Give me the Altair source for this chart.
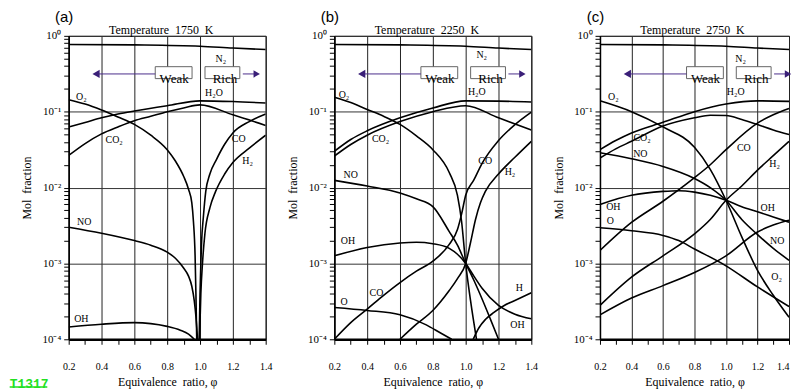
import altair as alt
import pandas as pd

# ---------------- axis ticks ----------------
X_TICKS = [0.2, 0.3, 0.4, 0.5, 0.6, 0.7, 0.8, 0.9, 1.0, 1.1, 1.2, 1.3, 1.4]
Y_DECADES = [0.0001, 0.001, 0.01, 0.1, 1.0]
Y_MINOR = [2, 3, 4, 5, 6, 7, 8, 9]

NB = "\u00a0"
PANEL_TAGS = ["(a)", "(b)", "(c)"]
PANEL_TITLES = [f"Temperature{NB}{NB}1750{NB}{NB}K", f"Temperature{NB}{NB}2250{NB}{NB}K",
                f"Temperature{NB}{NB}2750{NB}{NB}K"]

# ---------------- panel (a) 1750 K ----------------
A_N2_PHI = [0.2, 0.6, 1.0, 1.2, 1.4]
A_N2 = [0.77, 0.76, 0.73, 0.69, 0.66]
A_H2O_PHI = [0.2, 0.3, 0.4, 0.5, 0.6, 0.8, 1.0, 1.2, 1.4]
A_H2O = [0.063, 0.072, 0.083, 0.093, 0.102, 0.120, 0.139, 0.136, 0.130]
A_CO2_PHI = [0.2, 0.3, 0.4, 0.5, 0.6, 0.7, 0.8, 0.9, 1.0, 1.2, 1.4]
A_CO2 = [0.0265, 0.038, 0.051, 0.063, 0.076, 0.087, 0.100, 0.112, 0.123, 0.091, 0.066]
A_O2_PHI = [0.2, 0.3, 0.4, 0.5, 0.6, 0.7, 0.8, 0.85, 0.9, 0.93, 0.95, 0.96, 0.97, 0.975, 0.98]
A_O2 = [0.144, 0.126, 0.105, 0.085, 0.068, 0.049, 0.0316, 0.0224, 0.0141, 0.0095, 0.0063,
        0.00355, 0.00126, 0.0004, 0.0001]
A_NO_PHI = [0.2, 0.4, 0.6, 0.7, 0.8, 0.85, 0.9, 0.93, 0.95, 0.965, 0.975, 0.985]
A_NO = [0.0030, 0.0025, 0.0020, 0.00174, 0.00141, 0.00117, 0.00087, 0.00068, 0.0005,
        0.00032, 0.0002, 0.0001]
A_OH_PHI = [0.2, 0.4, 0.6, 0.8, 0.88, 0.93, 0.965]
A_OH = [0.000145, 0.000158, 0.000166, 0.000148, 0.000132, 0.000117, 0.0001]
A_CO_PHI = [0.995, 1.0, 1.005, 1.01, 1.02, 1.035, 1.06, 1.1, 1.15, 1.2, 1.3, 1.4]
A_CO = [0.0001, 0.0004, 0.001, 0.002, 0.004, 0.0089, 0.0151, 0.0234, 0.0372, 0.0525, 0.0741, 0.0933]
A_H2_PHI = [0.997, 1.005, 1.015, 1.03, 1.06, 1.095, 1.15, 1.2, 1.3, 1.4]
A_H2 = [0.0001, 0.0004, 0.001, 0.0025, 0.0054, 0.0089, 0.0151, 0.0214, 0.0331, 0.049]
A_LABELS = [("N₂", 1.127, 0.50), ("O₂", 0.277, 0.158), ("H₂O", 1.085, 0.179),
            ("CO₂", 0.477, 0.042), ("CO", 1.236, 0.0434), ("H₂", 1.29, 0.0224),
            ("NO", 0.295, 0.00347), ("OH", 0.277, 0.000184)]

# ---------------- panel (b) 2250 K ----------------
B_N2_PHI = [0.2, 0.6, 1.0, 1.2, 1.4]
B_N2 = [0.77, 0.76, 0.73, 0.69, 0.66]
B_H2O_PHI = [0.2, 0.3, 0.4, 0.6, 0.8, 1.0, 1.2, 1.4]
B_H2O = [0.030, 0.043, 0.056, 0.083, 0.112, 0.139, 0.138, 0.134]
B_CO2_PHI = [0.2, 0.3, 0.4, 0.6, 0.8, 1.0, 1.2, 1.4]
B_CO2 = [0.026, 0.037, 0.049, 0.074, 0.100, 0.120, 0.083, 0.0575]
B_O2_PHI = [0.2, 0.3, 0.4, 0.5, 0.6, 0.7, 0.8, 0.9, 0.95, 0.975, 1.0, 1.03, 1.066]
B_O2 = [0.155, 0.132, 0.107, 0.087, 0.068, 0.048, 0.0316, 0.0158, 0.0079, 0.0036, 0.001,
        0.00032, 0.0001]
B_NO_PHI = [0.2, 0.4, 0.6, 0.7, 0.8, 0.9, 0.95, 1.0, 1.05, 1.1, 1.15, 1.2]
B_NO = [0.01245, 0.0105, 0.0085, 0.0071, 0.0056, 0.00263, 0.00174, 0.001, 0.0006, 0.00034,
        0.000186, 0.0001]
B_OH_PHI = [0.2, 0.4, 0.6, 0.7, 0.8, 0.9, 0.95, 1.0, 1.05, 1.1, 1.2, 1.3, 1.4]
B_OH = [0.00126, 0.00162, 0.00186, 0.0019, 0.00182, 0.00158, 0.00132, 0.001, 0.00068,
        0.00047, 0.00028, 0.000214, 0.000186]
B_O_PHI = [0.2, 0.4, 0.6, 0.76, 0.85, 0.915]
B_O = [0.000263, 0.00024, 0.00021, 0.000155, 0.00012, 0.0001]
B_CO_PHI = [0.2, 0.3, 0.4, 0.5, 0.6, 0.7, 0.8, 0.9, 0.95, 0.975, 1.0, 1.05, 1.1, 1.2, 1.3, 1.4]
B_CO = [0.0001, 0.000166, 0.00025, 0.00038, 0.00056, 0.00079, 0.00107, 0.00178, 0.0028,
        0.00447, 0.0079, 0.0126, 0.0209, 0.0417, 0.0676, 0.099]
B_H2_PHI = [0.6, 0.7, 0.8, 0.9, 0.95, 1.0, 1.03, 1.06, 1.09, 1.12, 1.2, 1.3, 1.4]
B_H2 = [0.0001, 0.000158, 0.00024, 0.00044, 0.00063, 0.001, 0.0019, 0.0038, 0.0063,
        0.0089, 0.0151, 0.0251, 0.0407]
B_H_PHI = [1.046, 1.08, 1.12, 1.17, 1.23, 1.3, 1.4]
B_H = [0.0001, 0.000141, 0.000182, 0.000224, 0.000275, 0.000324, 0.00041]
B_LABELS = [("N₂", 1.098, 0.558), ("O₂", 0.259, 0.167), ("H₂O", 1.068, 0.181),
            ("CO₂", 0.482, 0.043), ("CO", 1.119, 0.0223), ("H₂", 1.27, 0.0158),
            ("NO", 0.30, 0.0146), ("OH", 0.283, 0.00195), ("CO", 0.457, 0.00041),
            ("O", 0.259, 0.00031), ("H", 1.327, 0.00047), ("OH", 1.315, 0.000155)]

# ---------------- panel (c) 2750 K ----------------
C_N2_PHI = [0.2, 0.6, 1.0, 1.2, 1.4]
C_N2 = [0.77, 0.76, 0.73, 0.69, 0.66]
C_H2O_PHI = [0.2, 0.3, 0.4, 0.6, 0.8, 1.0, 1.2, 1.4]
C_H2O = [0.0316, 0.0417, 0.0525, 0.0724, 0.100, 0.126, 0.139, 0.137]
C_CO2_PHI = [0.2, 0.3, 0.4, 0.6, 0.8, 0.9, 1.0, 1.1, 1.2, 1.3, 1.4]
C_CO2 = [0.0245, 0.0324, 0.0407, 0.0646, 0.083, 0.090, 0.089, 0.079, 0.0676, 0.0575, 0.050]
C_O2_PHI = [0.2, 0.4, 0.6, 0.8, 0.9, 1.0, 1.1, 1.2, 1.3, 1.4]
C_O2 = [0.139, 0.100, 0.063, 0.034, 0.0174, 0.0068, 0.00224, 0.00081, 0.00038, 0.000195]
C_NO_PHI = [0.2, 0.4, 0.6, 0.8, 0.9, 1.0, 1.1, 1.2, 1.3, 1.4]
C_NO = [0.0288, 0.024, 0.019, 0.0132, 0.0100, 0.0068, 0.0038, 0.0024, 0.00158, 0.0011]
C_CO_PHI = [0.2, 0.4, 0.6, 0.8, 0.9, 1.0, 1.2, 1.3, 1.4]
C_CO = [0.00148, 0.00347, 0.0066, 0.0135, 0.020, 0.0316, 0.0708, 0.091, 0.11]
C_H2_PHI = [0.2, 0.4, 0.6, 0.8, 0.9, 1.0, 1.1, 1.2, 1.3, 1.4]
C_H2 = [0.00028, 0.00066, 0.00126, 0.00245, 0.0038, 0.0068, 0.0105, 0.017, 0.0263, 0.0407]
C_H_PHI = [0.2, 0.4, 0.6, 0.8, 1.0, 1.2, 1.3, 1.4]
C_H = [0.00021, 0.00035, 0.00051, 0.00076, 0.00126, 0.0026, 0.0032, 0.0037]
C_OH_PHI = [0.2, 0.4, 0.6, 0.7, 0.8, 0.9, 1.0, 1.1, 1.2, 1.3, 1.4]
C_OH = [0.006, 0.0079, 0.0089, 0.0091, 0.0087, 0.0079, 0.0068, 0.0056, 0.0048, 0.0041, 0.0035]
C_O_PHI = [0.2, 0.4, 0.6, 0.7, 0.8, 1.0, 1.2, 1.4]
C_O = [0.00295, 0.0027, 0.00234, 0.002, 0.00155, 0.00093, 0.00049, 0.00027]
C_LABELS = [("N₂", 1.093, 0.49), ("O₂", 0.285, 0.158), ("H₂O", 1.062, 0.181),
            ("CO₂", 0.467, 0.045), ("NO", 0.456, 0.0275), ("CO", 1.113, 0.0333),
            ("H₂", 1.309, 0.0202), ("OH", 0.285, 0.0056), ("O", 0.265, 0.00357),
            ("OH", 1.265, 0.0054), ("NO", 1.325, 0.00195), ("O₂", 1.321, 0.00066)]

SERIES = [
    {"N2": (A_N2_PHI, A_N2), "H2O": (A_H2O_PHI, A_H2O), "CO2": (A_CO2_PHI, A_CO2),
     "O2": (A_O2_PHI, A_O2), "NO": (A_NO_PHI, A_NO), "OH": (A_OH_PHI, A_OH),
     "CO": (A_CO_PHI, A_CO), "H2": (A_H2_PHI, A_H2)},
    {"N2": (B_N2_PHI, B_N2), "H2O": (B_H2O_PHI, B_H2O), "CO2": (B_CO2_PHI, B_CO2),
     "O2": (B_O2_PHI, B_O2), "NO": (B_NO_PHI, B_NO), "OH": (B_OH_PHI, B_OH),
     "O": (B_O_PHI, B_O), "CO": (B_CO_PHI, B_CO), "H2": (B_H2_PHI, B_H2),
     "H": (B_H_PHI, B_H)},
    {"N2": (C_N2_PHI, C_N2), "H2O": (C_H2O_PHI, C_H2O), "CO2": (C_CO2_PHI, C_CO2),
     "O2": (C_O2_PHI, C_O2), "NO": (C_NO_PHI, C_NO), "CO": (C_CO_PHI, C_CO),
     "H2": (C_H2_PHI, C_H2), "H": (C_H_PHI, C_H), "OH": (C_OH_PHI, C_OH),
     "O": (C_O_PHI, C_O)},
]
LABELS = [A_LABELS, B_LABELS, C_LABELS]

# ---------------- styling ----------------
SERIF = "Liberation Serif"
SANS = "Liberation Sans"
MONO = "Liberation Mono"
PURPLE = "#4b2d8a"
PURPLE_DARK = "#3a1f78"
GREEN = "#22e022"
PWIDTHS = [198, 198, 190]
PH = 305

Y_TICKS = sorted(set(Y_DECADES + [d * m for d in Y_DECADES[:-1] for m in Y_MINOR]))

X_MAJOR = "abs(datum.value*5 - round(datum.value*5)) < 0.01"
LOG10 = "(log(datum.value)/LN10)"
Y_MAJOR = f"abs({LOG10} - round({LOG10})) < 0.01"
Y_LABEL = (f"abs({LOG10}) < 0.01 ? '10⁰' : abs({LOG10}+1) < 0.01 ? '10⁻¹' : "
           f"abs({LOG10}+2) < 0.01 ? '10⁻²' : abs({LOG10}+3) < 0.01 ? '10⁻³' : "
           f"abs({LOG10}+4) < 0.01 ? '10⁻⁴' : ''")

x_scale = alt.Scale(domain=[0.2, 1.4], nice=False, zero=False)
y_scale = alt.Scale(type="log", domain=[0.0001, 1], nice=False)


def x_axis(last_right):
    extra = {}
    if last_right:
        extra["labelAlign"] = {"condition": {"test": "datum.value > 1.35", "value": "right"},
                               "value": "center"}
    return alt.Axis(
        values=X_TICKS, tickCount=100, title=f"Equivalence{NB}{NB}ratio,{NB}φ",
        labelExpr=f"{X_MAJOR} ? format(datum.value, '.1f') : ''",
        grid=True, gridColor="#222222", gridWidth=1,
        gridOpacity={"condition": {"test": X_MAJOR, "value": 1}, "value": 0},
        tickSize=5, tickColor="black", domainColor="black", domainWidth=2.5,
        labelFont=SERIF, labelFontSize=10, labelColor="black", labelPadding=17,
        labelOverlap=False, labelFlush=False,
        titleFont=SERIF, titleFontSize=12, titleFontWeight="normal", titleColor="black",
        titlePadding=5, **extra,
    )


y_axis = alt.Axis(
    values=Y_TICKS, tickCount=100, title=f"Mol{NB}{NB}fraction", labelExpr=Y_LABEL,
    grid=True, gridColor="#333333", gridWidth=1,
    gridOpacity={"condition": {"test": Y_MAJOR, "value": 1}, "value": 0},
    tickSize=5, tickColor="black", domainColor="black", domainWidth=1.5,
    labelFont=SERIF, labelFontSize=11, labelColor="black", labelPadding=3,
    labelOverlap=False, labelFlush=False,
    titleFont=SERIF, titleFontSize=12, titleFontWeight="normal", titleColor="black",
    titleX=-35, titleY=PH / 2,
)

ONE = pd.DataFrame({"k": [0]})


def make_panel(i):
    rows = []
    for sp, (phis, vals) in SERIES[i].items():
        for p, v in zip(phis, vals):
            rows.append({"species": sp, "phi": p, "value": v})
    df = pd.DataFrame(rows)
    ldf = pd.DataFrame([{"label": t, "phi": p, "value": v} for t, p, v in LABELS[i]])

    lines = alt.Chart(df).mark_line(
        color="black", strokeWidth=1.6, interpolate="monotone", clip=True
    ).encode(
        x=alt.X("phi:Q", scale=x_scale, axis=x_axis(i == 2)),
        y=alt.Y("value:Q", scale=y_scale, axis=y_axis),
        detail="species:N",
        order="phi:Q",
    )
    labels = alt.Chart(ldf).mark_text(font=SERIF, fontSize=10, color="black").encode(
        x="phi:Q", y="value:Q", text="label:N"
    )
    base = alt.Chart(ONE)
    tag = base.mark_text(font=SANS, fontSize=15, color="black", align="center",
                         baseline="top").encode(
        x=alt.value(-4.5), y=alt.value(-26), text=alt.value(PANEL_TAGS[i]))
    title = base.mark_text(font=SERIF, fontSize=12, color="black", align="center").encode(
        x=alt.value(93), y=alt.value(-5.5), text=alt.value(PANEL_TITLES[i]))
    weak_box = base.mark_rect(fill="white", stroke="#666666", strokeWidth=1).encode(
        x=alt.value(87), x2=alt.value(124), y=alt.value(31), y2=alt.value(43))
    rich_box = base.mark_rect(fill="white", stroke="#666666", strokeWidth=1).encode(
        x=alt.value(137), x2=alt.value(172), y=alt.value(31), y2=alt.value(43))
    weak_txt = base.mark_text(font=SERIF, fontSize=13, color="black", align="center").encode(
        x=alt.value(106), y=alt.value(43.5), text=alt.value("Weak"))
    rich_txt = base.mark_text(font=SERIF, fontSize=13, color="black", align="center").encode(
        x=alt.value(157), y=alt.value(43.5), text=alt.value("Rich"))
    left_line = base.mark_rule(color=PURPLE, strokeWidth=1).encode(
        x=alt.value(27), x2=alt.value(87), y=alt.value(38.3))
    right_line = base.mark_rule(color=PURPLE, strokeWidth=1).encode(
        x=alt.value(175), x2=alt.value(189), y=alt.value(38.3))
    left_head = base.mark_point(shape="triangle-left", filled=True, size=70,
                                color=PURPLE_DARK, opacity=1).encode(
        x=alt.value(27.5), y=alt.value(38.3))
    right_head = base.mark_point(shape="triangle-right", filled=True, size=55,
                                 color=PURPLE_DARK, opacity=1).encode(
        x=alt.value(189), y=alt.value(38.3))
    layers = [lines, labels, tag, title, weak_box, rich_box, weak_txt, rich_txt,
              left_line, right_line, left_head, right_head]
    if i == 0:
        layers.append(base.mark_text(font=MONO, fontSize=13, fontWeight="bold", color=GREEN,
                                     align="left").encode(
            x=alt.value(-59.3), y=alt.value(350), text=alt.value("T1317")))
        layers.append(base.mark_rule(color=GREEN, strokeWidth=1.5).encode(
            x=alt.value(-59.3), x2=alt.value(-21.5), y=alt.value(353)))
    return alt.layer(*layers).properties(width=PWIDTHS[i], height=PH)


chart = alt.hconcat(
    make_panel(0), make_panel(1), make_panel(2), spacing=69, bounds="flush"
).configure_view(stroke="black", strokeWidth=1).properties(padding=0, background="white")

chart.save("out.html", embed_options={"renderer": "svg", "actions": False})
